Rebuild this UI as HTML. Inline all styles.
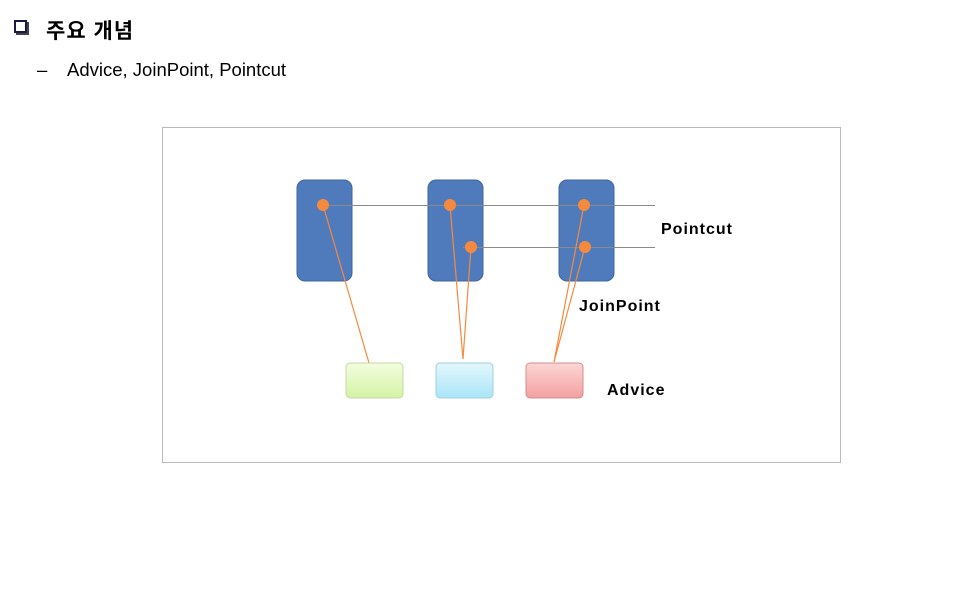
<!DOCTYPE html>
<html><head><meta charset="utf-8"><style>
body{margin:0;width:978px;height:592px;background:#fff;position:relative;font-family:"Liberation Sans","Noto Sans CJK KR",sans-serif;overflow:hidden}
.t{position:absolute;white-space:nowrap}
</style></head><body>
<div class="t" style="left:14px;top:20px;width:13px;height:13px;border:2px solid #1a1a4a;box-shadow:2px 2px 0 #444;box-sizing:border-box"></div>
<div class="t" style="left:46px;top:15px;font-size:21px;font-weight:bold;letter-spacing:1px">주요 개념</div>
<div class="t" style="left:37px;top:59px;font-size:18.5px">–</div>
<div class="t" style="left:67px;top:59px;font-size:18.5px">Advice, JoinPoint, Pointcut</div>
<svg width="978" height="592" style="position:absolute;left:0;top:0">
<defs>
<linearGradient id="g" x1="0" y1="0" x2="0" y2="1"><stop offset="0" stop-color="#f3fde0"/><stop offset="1" stop-color="#d4f3a4"/></linearGradient>
<linearGradient id="b" x1="0" y1="0" x2="0" y2="1"><stop offset="0" stop-color="#e4f7fd"/><stop offset="1" stop-color="#a9e5f8"/></linearGradient>
<linearGradient id="r" x1="0" y1="0" x2="0" y2="1"><stop offset="0" stop-color="#fdd6d6"/><stop offset="1" stop-color="#f3a0a0"/></linearGradient>
</defs>
<rect x="162.5" y="127.5" width="678" height="335" fill="none" stroke="#777" stroke-dasharray="1,1"/>
<g fill="#4f7bbd" stroke="#3d64a0">
<rect x="297" y="180" width="55" height="101" rx="8"/>
<rect x="428" y="180" width="55" height="101" rx="8"/>
<rect x="559" y="180" width="55" height="101" rx="8"/>
</g>
<g stroke="#8a8a8a" stroke-width="1">
<line x1="323" y1="205.5" x2="655" y2="205.5"/>
<line x1="463" y1="247.5" x2="655" y2="247.5"/>
</g>
<g stroke="#f58a3e" stroke-width="1.2">
<line x1="323" y1="205" x2="369" y2="363"/>
<line x1="450" y1="205" x2="463" y2="359"/>
<line x1="471" y1="247" x2="463" y2="359"/>
<line x1="584" y1="205" x2="554" y2="362"/>
<line x1="585" y1="247" x2="554" y2="362"/>
</g>
<g fill="#f58a3e">
<circle cx="323" cy="205" r="6"/><circle cx="450" cy="205" r="6"/><circle cx="584" cy="205" r="6"/>
<circle cx="471" cy="247" r="6"/><circle cx="585" cy="247" r="6"/>
</g>
<rect x="346" y="363" width="57" height="35" rx="4" fill="url(#g)" stroke="#c5d9a8"/>
<rect x="436" y="363" width="57" height="35" rx="4" fill="url(#b)" stroke="#9fd0e0"/>
<rect x="526" y="363" width="57" height="35" rx="4" fill="url(#r)" stroke="#d08f8f"/>
<g font-family="Liberation Sans, sans-serif" font-weight="bold" font-size="16" letter-spacing="1">
<text x="661" y="234">Pointcut</text>
<text x="579" y="311">JoinPoint</text>
<text x="607" y="395">Advice</text>
</g>
</svg>
</body></html>
